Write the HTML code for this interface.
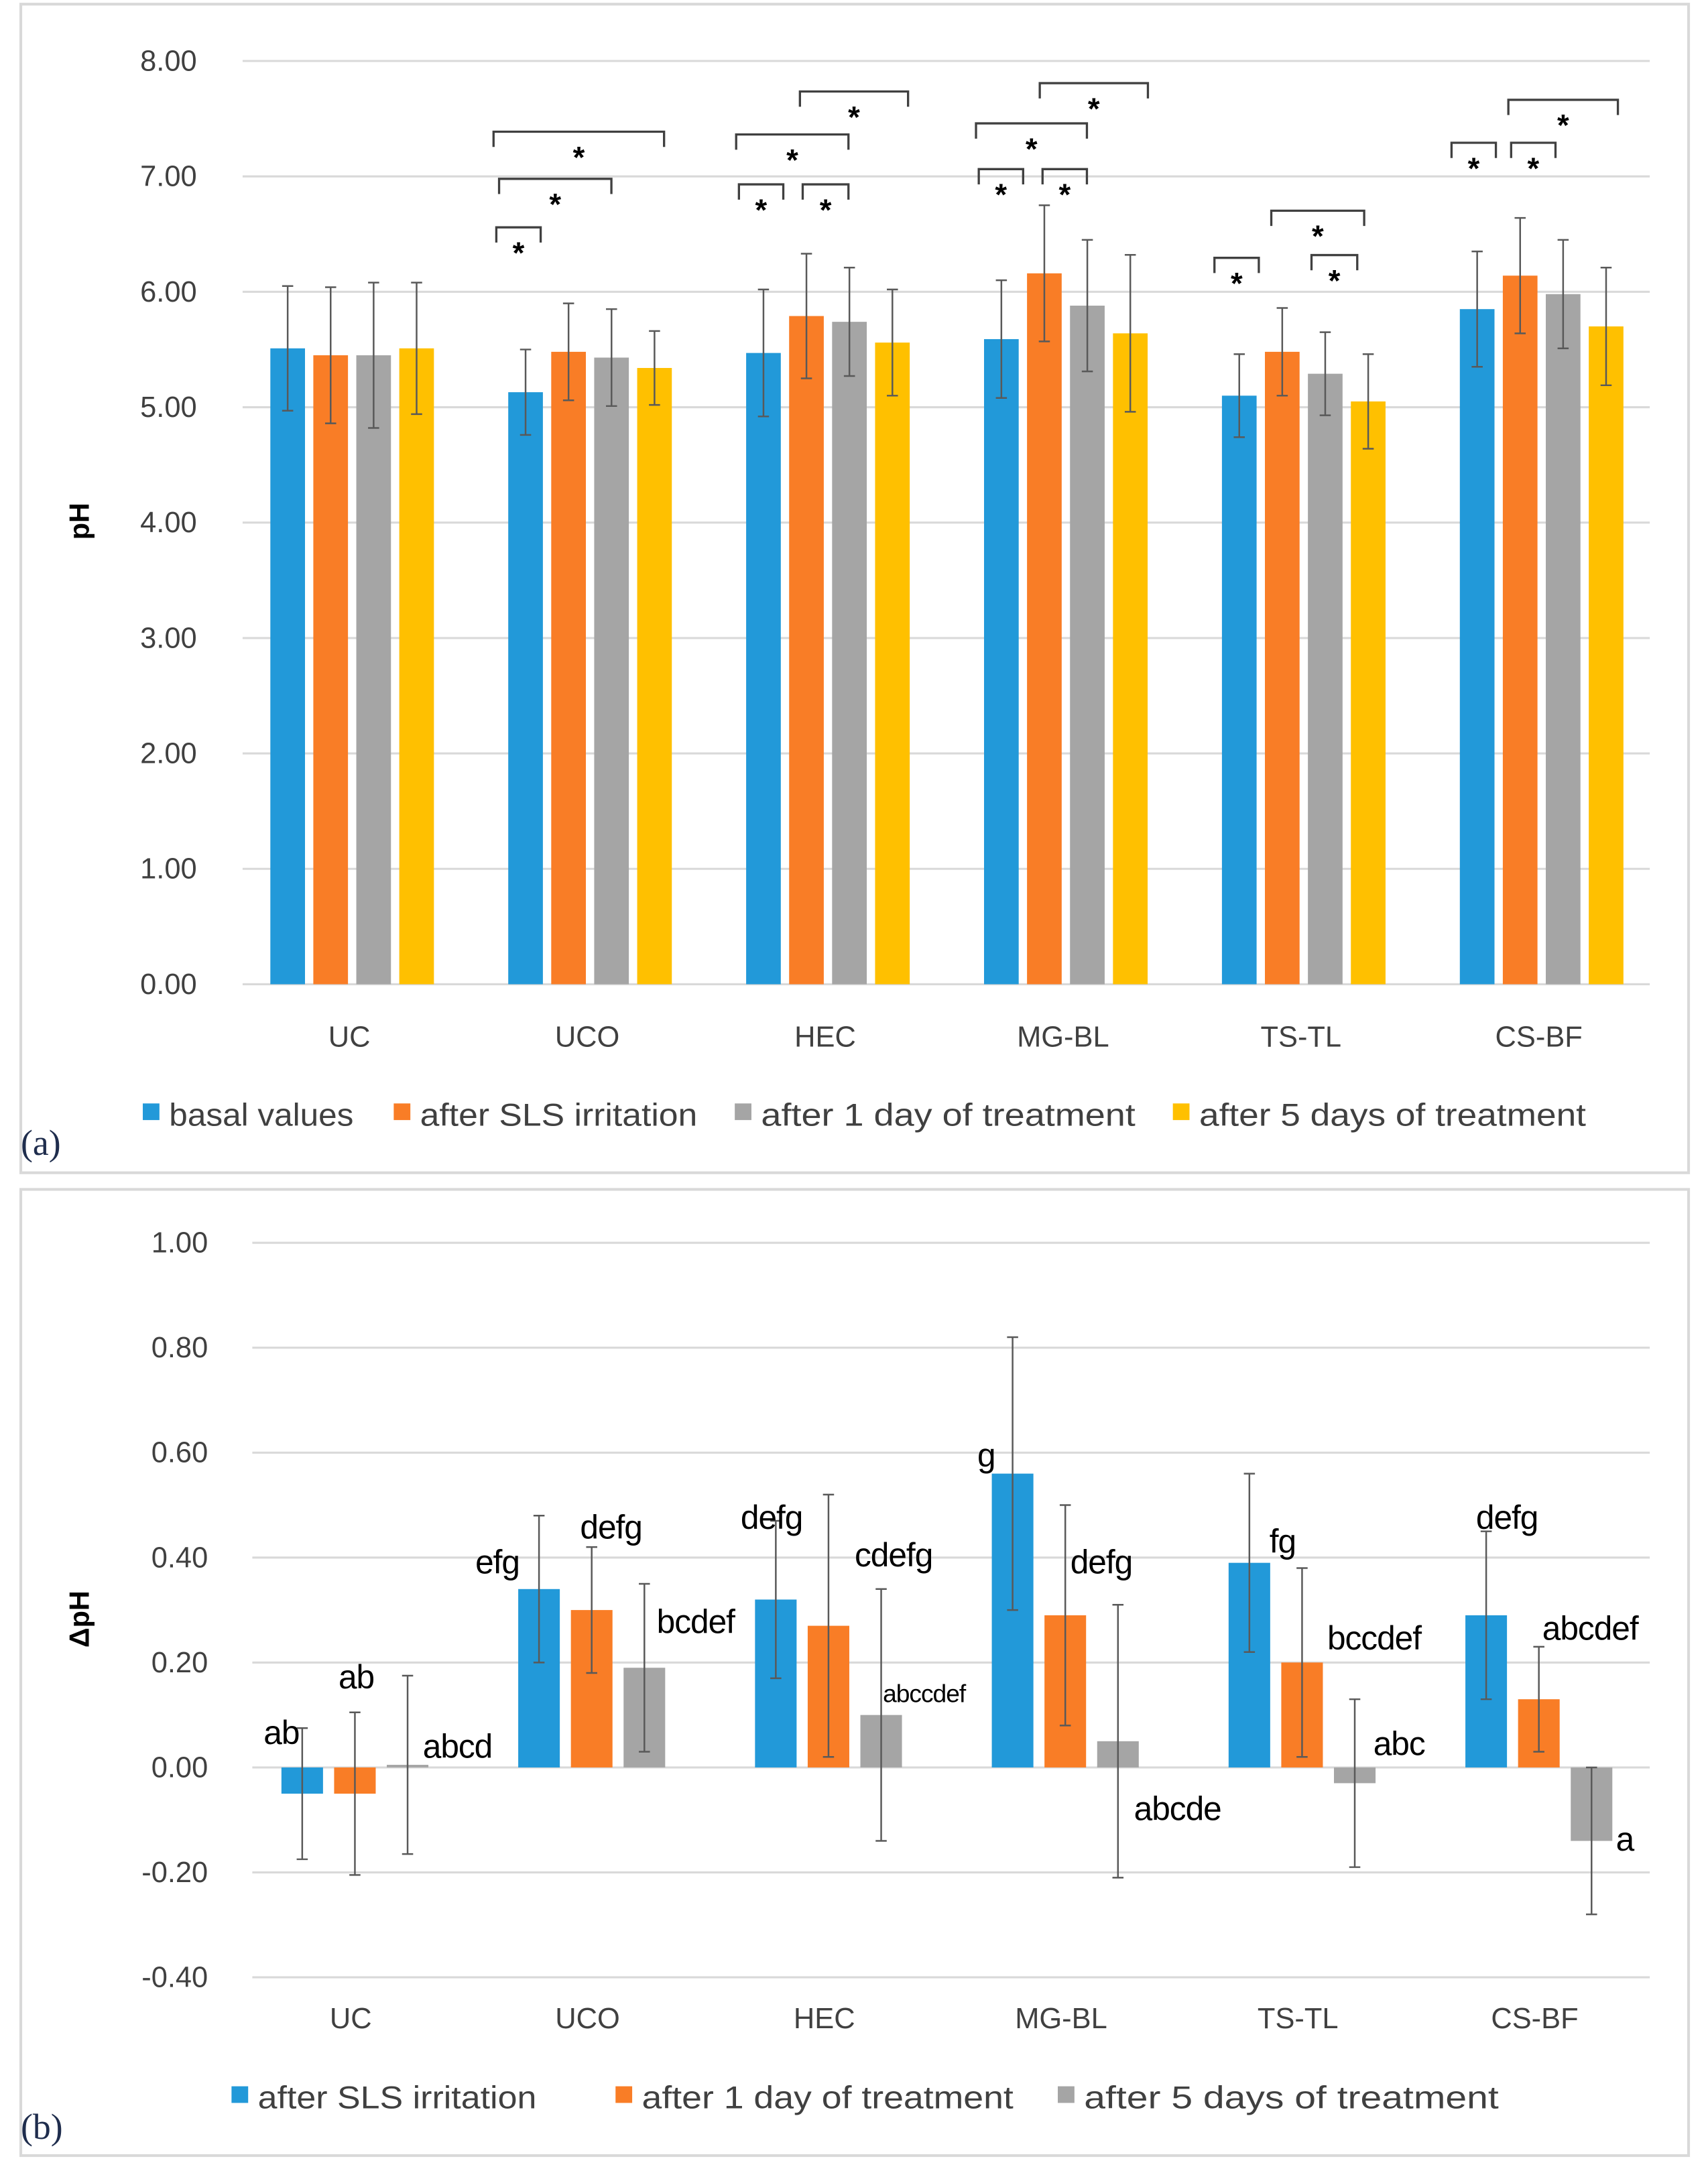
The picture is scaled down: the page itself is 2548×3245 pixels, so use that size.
<!DOCTYPE html>
<html><head><meta charset="utf-8"><style>
html,body{margin:0;padding:0;background:#fff}
svg{display:block}
text{font-family:"Liberation Sans",sans-serif}
</style></head><body>
<svg id="fig" width="2548" height="3245" viewBox="0 0 1232 1569" preserveAspectRatio="none" xmlns="http://www.w3.org/2000/svg">
<rect x="15" y="3" width="1203" height="843" fill="none" stroke="#d9d9d9" stroke-width="2"/>
<rect x="15" y="858" width="1203" height="697" fill="none" stroke="#d9d9d9" stroke-width="2"/>
<g id="ga"></g><g id="gb"></g>
<text x="64" y="376" transform="rotate(-90 64 376)" text-anchor="middle" font-size="20" font-weight="bold" fill="#000">pH</text>
<text x="64" y="1168" transform="rotate(-90 64 1168)" text-anchor="middle" font-size="20" font-weight="bold" fill="#000">ΔpH</text>
<text x="15" y="833" font-size="26" fill="#1f2d4d" style="font-family:'Liberation Serif',serif">(a)</text>
<text x="15" y="1543" font-size="26" fill="#1f2d4d" style="font-family:'Liberation Serif',serif">(b)</text>
</svg>
<script>
const NS="http://www.w3.org/2000/svg";
const categories=["UC","UCO","HEC","MG-BL","TS-TL","CS-BF"];
const seriesA=["basal values","after SLS irritation","after 1 day of treatment","after 5 days of treatment"];
const basal=[5.51,5.13,5.47,5.59,5.10,5.85];
const afterSLS=[5.45,5.48,5.79,6.16,5.48,6.14];
const after1d=[5.45,5.43,5.74,5.88,5.29,5.98];
const after5d=[5.51,5.34,5.56,5.64,5.05,5.70];
const errBasal=[0.54,0.37,0.55,0.51,0.36,0.50];
const errSLS=[0.59,0.42,0.54,0.59,0.38,0.50];
const err1d=[0.63,0.42,0.47,0.57,0.36,0.47];
const err5d=[0.57,0.32,0.46,0.68,0.41,0.51];
const ticksA=["0.00","1.00","2.00","3.00","4.00","5.00","6.00","7.00","8.00"];
const seriesB=["after SLS irritation","after 1 day of treatment","after 5 days of treatment"];
const dSLS=[-0.05,0.34,0.32,0.56,0.39,0.29];
const d1d=[-0.05,0.30,0.27,0.29,0.20,0.13];
const d5d=[0.005,0.19,0.10,0.05,-0.03,-0.14];
const eSLS=[0.125,0.14,0.15,0.26,0.17,0.16];
const e1d=[0.155,0.12,0.25,0.21,0.18,0.10];
const e5d=[0.17,0.16,0.24,0.26,0.16,0.14];
const lettersSLS=["ab","efg","defg","g","fg","defg"];
const letters1d=["ab","defg","cdefg","defg","bccdef","abcdef"];
const letters5d=["abcd","bcdef","abccdef","abcde","abc","a"];
const ticksB=["-0.40","-0.20","0.00","0.20","0.40","0.60","0.80","1.00"];
const colors=["#2299d9","#f97d26","#a5a5a5","#ffc000"];
function mk(p,tag,at,txt){const e=document.createElementNS(NS,tag);for(const k in at)e.setAttribute(k,at[k]);if(txt!==undefined)e.textContent=txt;p.appendChild(e);return e;}
// ---- Panel A ----
const ga=document.getElementById('ga');
const yA=v=>710-v*83.25;
const xA=i=>252+i*171.6;
ticksA.forEach(t=>{const v=parseFloat(t);
 const l=mk(ga,'line',{x1:175,x2:1190,y1:yA(v),y2:yA(v),stroke:'#d9d9d9','stroke-width':1.5});
 
 
 const tx=mk(ga,'text',{x:142,y:yA(v)+7,'text-anchor':'end','font-size':21,fill:'#404040'},t);
 
 });
const valsA=[basal,afterSLS,after1d,after5d],errsA=[errBasal,errSLS,err1d,err5d];
const offA=[-44.5,-13.5,17.5,48.5];
categories.forEach((c,i)=>{
 valsA.forEach((s,k)=>{const cx=xA(i)+offA[k];
  const r=mk(ga,'rect',{x:cx-12.5,y:yA(s[i]),width:25,height:yA(0)-yA(s[i]),fill:colors[k]});
  
  
  const e=errsA[k][i],t=yA(s[i]+e),b=yA(s[i]-e);
  const eg=mk(ga,'path',{d:`M${cx},${t}V${b}M${cx-4},${t}H${cx+4}M${cx-4},${b}H${cx+4}`,stroke:'#595959','stroke-width':1.2,fill:'none'});
  
  });
 const lt=mk(ga,'text',{x:xA(i),y:755,'text-anchor':'middle','font-size':21,fill:'#404040'},c);
 
 });
const brackets=[[358,390,164],[360,441,129],[356,479,95],[533,565,133],[579,612,133],[531,612,97],[577,655,66],[706,738,122],[752,784,122],[704,784,89],[750,828,60],[876,908,186],[946,979,184],[917,984,152],[1047,1079,103],[1090,1122,103],[1088,1167,72]];
brackets.forEach(b=>{const p=mk(ga,'path',{d:`M${b[0]},${b[2]+11}V${b[2]}H${b[1]}V${b[2]+11}`,stroke:'#404040','stroke-width':1.6,fill:'none'});
 
 
 const s=mk(ga,'text',{x:(b[0]+b[1])/2,y:b[2]+26,'text-anchor':'middle','font-size':22,'font-weight':'bold',fill:'#000'},'*');
 
 });
const legAx=[103,284,530,846];
const legAw=[133,200,270,279];
seriesA.forEach((n,k)=>{const r=mk(ga,'rect',{x:legAx[k],y:796,width:12,height:12,fill:colors[k]});
 
 
 const t=mk(ga,'text',{x:legAx[k]+19,y:812,'font-size':23,fill:'#404040',textLength:legAw[k],lengthAdjust:'spacingAndGlyphs'},n);
 
 });
// ---- Panel B ----
const gb=document.getElementById('gb');
const yB=v=>1275-v*378.5;
const xB=i=>256+i*170.8;
ticksB.forEach(t=>{const v=parseFloat(t);
 const l=mk(gb,'line',{x1:182,x2:1190,y1:yB(v),y2:yB(v),stroke:'#d9d9d9','stroke-width':1.5});
 
 
 const tx=mk(gb,'text',{x:150,y:yB(v)+7,'text-anchor':'end','font-size':21,fill:'#404040'},t);
 
 });
const valsB=[dSLS,d1d,d5d],errsB=[eSLS,e1d,e5d],letB=[lettersSLS,letters1d,letters5d];
const offB=[-38,0,38];
const letPos=[[[-53,-17],[1,-57],[74,-7]],[[-68,-140],[14,-165],[75,-97]],[[-41,-172],[47,-145],[69,-47]],[[-57,-217],[26,-140],[81,38]],[[-14,-155],[52,-85],[70,-9]],[[-23,-172],[37,-92],[62,60]]];
const letSize=[[24,24,24],[24,24,24],[24,24,18],[24,24,24],[24,24,24],[24,24,24]];
categories.forEach((c,i)=>{
 valsB.forEach((s,k)=>{const cx=xB(i)+offB[k],v=s[i];
  const r=mk(gb,'rect',{x:cx-15,y:Math.min(yB(v),yB(0)),width:30,height:Math.abs(yB(v)-yB(0)),fill:colors[k]});
  
  
  const e=errsB[k][i],t=yB(v+e),b=yB(v-e);
  const eg=mk(gb,'path',{d:`M${cx},${t}V${b}M${cx-4},${t}H${cx+4}M${cx-4},${b}H${cx+4}`,stroke:'#595959','stroke-width':1.2,fill:'none'});
  
  
  const lbl=letB[k][i];
  if(lbl){const lp=letPos[i][k];
   const lt=mk(gb,'text',{x:xB(i)+lp[0],y:yB(0)+lp[1],'text-anchor':'middle','font-size':letSize[i][k],fill:'#000',style:'letter-spacing:-0.5px'},lbl);
   
   }});
 const lt=mk(gb,'text',{x:xB(i)-3,y:1463,'text-anchor':'middle','font-size':21,fill:'#404040'},c);
 
 });
const legBx=[167,444,763];
const legBw=[201,268,299];
seriesB.forEach((n,k)=>{const r=mk(gb,'rect',{x:legBx[k],y:1505,width:12,height:12,fill:colors[k]});
 
 
 const t=mk(gb,'text',{x:legBx[k]+19,y:1521,'font-size':23,fill:'#404040',textLength:legBw[k],lengthAdjust:'spacingAndGlyphs'},n);
 
 });
</script>
</body></html>
